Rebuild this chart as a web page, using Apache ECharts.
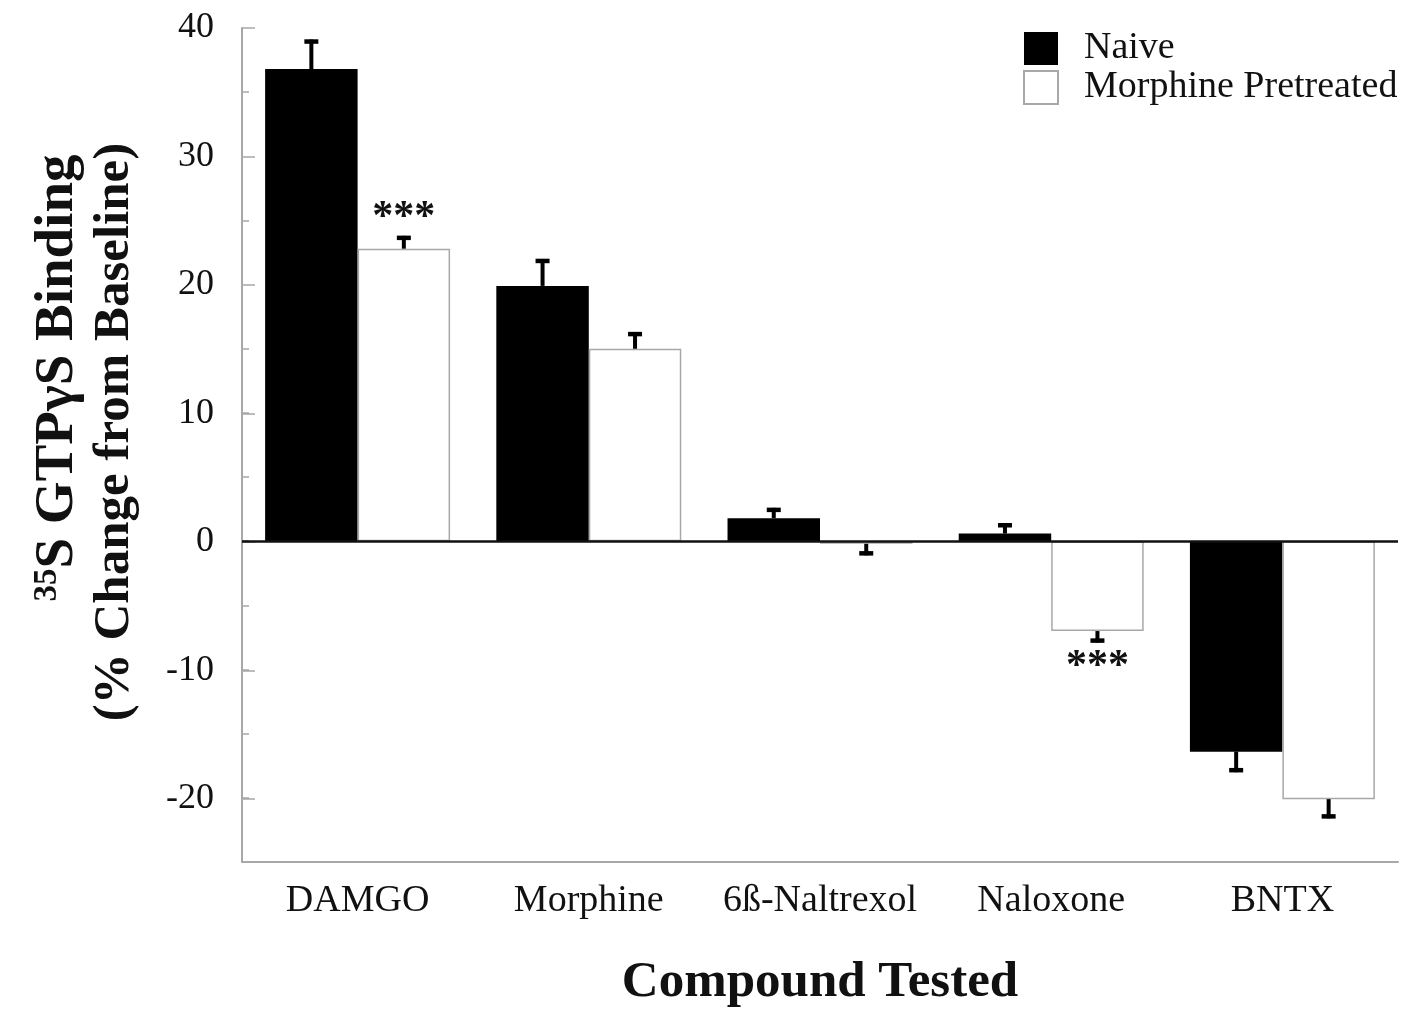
<!DOCTYPE html>
<html>
<head>
<meta charset="utf-8">
<script src="https://cdn.jsdelivr.net/npm/echarts@6/dist/echarts.min.js"></script>
<style>
  html, body { margin: 0; padding: 0; background: #fff; }
  #chart { width: 1405px; height: 1013px; }
</style>
</head>
<body>
<div id="chart"></div>
<script>
// ---- Data ----
var categories = ['DAMGO', 'Morphine', '6ß-Naltrexol', 'Naloxone', 'BNTX'];
var naive = [36.8, 19.9, 1.8, 0.6, -16.4];
var naiveErr = [2.3, 2.1, 0.8, 0.8, 1.6];
var pretreated = [22.8, 15.0, -0.2, -7.0, -20.1];
var pretreatedErr = [1.0, 1.3, 0.9, 0.9, 1.5];
var pretreatedSig = ['***', '', '', '***', ''];
var yTicks = [-20, -10, 0, 10, 20, 30, 40];

// ---- Layout ----
var FONT = '"Liberation Serif", "Times New Roman", serif';
var G_LEFT = 242, G_RIGHT = 7, G_TOP = 28, G_BOTTOM = 150;
var plotH = 1013 - G_TOP - G_BOTTOM;
var Y_MIN = -25, Y_MAX = 40;
var labelMin = yTicks[0];
var G1_BOTTOM = G_BOTTOM + plotH * (labelMin - Y_MIN) / (Y_MAX - Y_MIN);
var BAR_FRAC = 0.4;

function errSeries(vals, errs, sig, side) {
  return {
    type: 'custom',
    xAxisIndex: 0, yAxisIndex: 0,
    z: 5,
    silent: true,
    data: vals.map(function (v, i) { return [i, v, errs[i]]; }),
    renderItem: function (params, api) {
      var i = api.value(0), v = api.value(1), e = api.value(2);
      var s = sig ? sig[params.dataIndex] : '';
      var band = api.size([1, 0])[0];
      var base = api.coord([i, v]);
      var x = base[0] + side * band * BAR_FRAC / 2;
      var end = v >= 0 ? v + e : v - e;
      var p2 = api.coord([i, end]);
      var capY = p2[1] + (v >= 0 ? 2 : -2);
      var children = [
        { type: 'line', shape: { x1: x, y1: base[1], x2: x, y2: p2[1] },
          style: { stroke: '#000', lineWidth: 4 } },
        { type: 'line', shape: { x1: x - 7, y1: capY, x2: x + 7, y2: capY },
          style: { stroke: '#000', lineWidth: 4.5 } }
      ];
      if (s) {
        children.push({
          type: 'text',
          x: x, y: v >= 0 ? p2[1] + 3 : p2[1] + 4,
          style: {
            text: s, fill: '#111', font: 'bold 42px ' + FONT,
            textAlign: 'center', textVerticalAlign: v >= 0 ? 'bottom' : 'top'
          }
        });
      }
      return { type: 'group', children: children };
    }
  };
}

var chart = echarts.init(document.getElementById('chart'), null, { renderer: 'canvas' });
chart.setOption({
  animation: false,
  backgroundColor: '#fff',
  grid: [
    { left: G_LEFT, right: G_RIGHT, top: G_TOP, bottom: G_BOTTOM },
    { left: G_LEFT, right: G_RIGHT, top: G_TOP, bottom: G1_BOTTOM }
  ],
  legend: {
    data: ['Naive', 'Morphine Pretreated'],
    orient: 'vertical',
    left: 1023, top: 29, padding: 0,
    icon: 'rect',
    itemWidth: 34, itemHeight: 33, itemGap: 0,
    textStyle: { fontFamily: FONT, fontSize: 38, color: '#111', lineHeight: 39, padding: [0, 0, 0, 21] }
  },
  xAxis: [
    {
      type: 'category', gridIndex: 0, data: categories,
      axisLine: { onZero: false, lineStyle: { color: '#a8a8a8', width: 2 } },
      axisTick: { show: false },
      axisLabel: { interval: 0, fontFamily: FONT, fontSize: 38, color: '#111', margin: 20 },
      name: 'Compound Tested', nameLocation: 'middle', nameGap: 95,
      nameTextStyle: { fontFamily: FONT, fontSize: 51, fontWeight: 'bold', color: '#111' }
    },
    { type: 'category', gridIndex: 1, data: categories, show: false }
  ],
  yAxis: [
    {
      type: 'value', gridIndex: 0, min: Y_MIN, max: Y_MAX, interval: 5,
      axisLine: { show: true, lineStyle: { color: '#a8a8a8', width: 2 } },
      axisTick: { show: true, inside: true, length: 7, lineStyle: { color: '#a8a8a8', width: 1.5 } },
      axisLabel: { show: false },
      splitLine: { show: false }
    },
    {
      type: 'value', gridIndex: 1, min: labelMin, max: Y_MAX, interval: 10,
      axisLine: { show: false },
      axisTick: { show: true, inside: true, length: 13, lineStyle: { color: '#a8a8a8', width: 1.5 } },
      axisLabel: { fontFamily: FONT, fontSize: 36, color: '#111', margin: 28 },
      splitLine: { show: false }
    }
  ],
  series: [
    {
      name: 'Naive', type: 'bar', xAxisIndex: 0, yAxisIndex: 0,
      data: naive, barWidth: (BAR_FRAC * 100) + '%', barGap: '0%',
      itemStyle: { color: '#000' },
      markLine: {
        silent: true, symbol: 'none', label: { show: false },
        lineStyle: { color: '#111', width: 2.5, type: 'solid' },
        data: [{ yAxis: 0 }]
      }
    },
    {
      name: 'Morphine Pretreated', type: 'bar', xAxisIndex: 0, yAxisIndex: 0,
      data: pretreated, barWidth: (BAR_FRAC * 100) + '%', barGap: '0%',
      itemStyle: { color: '#fff', borderColor: '#a8a8a8', borderWidth: 1.5 }
    },
    errSeries(naive, naiveErr, null, -1),
    errSeries(pretreated, pretreatedErr, pretreatedSig, 1)
  ],
  graphic: [
    {
      type: 'text', x: 58, y: 378, rotation: Math.PI / 2,
      style: {
        text: '{sup|35}S GTPγS Binding',
        font: 'bold 55px ' + FONT, fill: '#111',
        textAlign: 'center', textVerticalAlign: 'middle',
        rich: {
          sup: { font: 'bold 33px ' + FONT, fill: '#111', verticalAlign: 'top', lineHeight: 55 }
        }
      }
    },
    {
      type: 'text', x: 115, y: 432, rotation: Math.PI / 2,
      style: {
        text: '(% Change from Baseline)',
        font: 'bold 51px ' + FONT, fill: '#111',
        textAlign: 'center', textVerticalAlign: 'middle'
      }
    }
  ]
});
</script>
</body>
</html>
